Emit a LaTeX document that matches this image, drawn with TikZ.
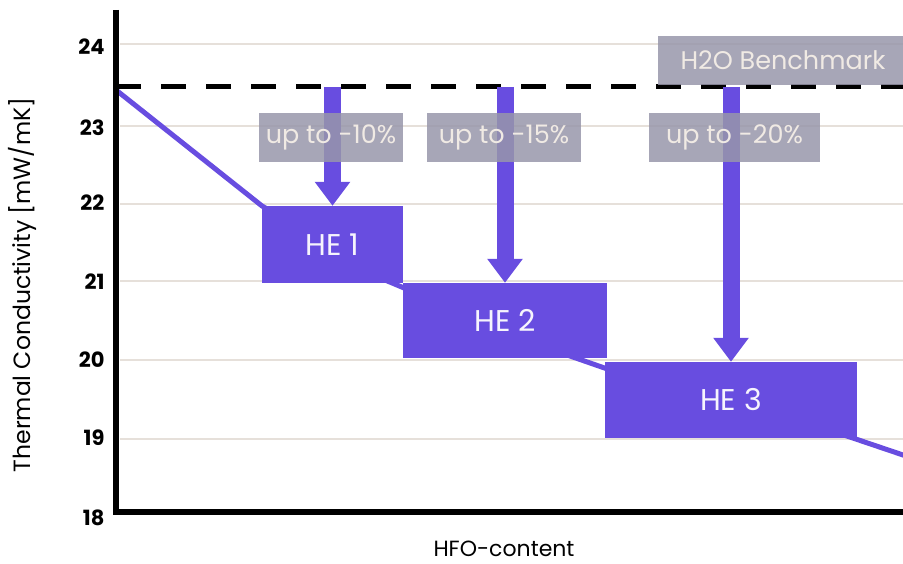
\documentclass[tikz,border=0pt]{standalone}
\usepackage{fontspec}
\setmainfont{Poppins}
\usetikzlibrary{arrows.meta,backgrounds}

\definecolor{hepurple}{RGB}{104,77,224}
\definecolor{gridbeige}{RGB}{230,224,218}
\definecolor{tagfill}{RGB}{152,150,170}
\definecolor{tagtext}{RGB}{240,234,228}

\tikzset{
  grid line/.style={gridbeige, line width=2.5pt},
  trend/.style={hepurple, line width=5pt},
  he box/.style={fill=hepurple, text=white!94!hepurple, inner sep=0pt, font=\fontsize{30}{34}\selectfont},
  tag box/.style={fill=tagfill, fill opacity=0.85, text opacity=1, text=tagtext, inner sep=0pt,
    minimum height=49pt, font=\fontsize{25.5}{29}\selectfont},
  drop arrow/.style={hepurple, line width=17pt, -{Triangle[width=34pt,length=24pt]}},
  tick label/.style={anchor=east, font=\bfseries\fontsize{21}{24}\selectfont}
}

\begin{document}
\begin{tikzpicture}[x=1pt,y=-1pt]
\useasboundingbox (0,0) rectangle (903,564);

% boxes of the three blends
\node[he box, minimum width=141pt, minimum height=77pt] (he1) at (332.5,244.5) {HE 1};
\node[he box, minimum width=204pt, minimum height=75pt] (he2) at (505,320.5) {HE 2};
\node[he box, minimum width=252pt, minimum height=76pt] (he3) at (731,400) {HE 3};

\coordinate (dashL) at (116,87);
\coordinate (dashR) at (903,87);
\coordinate (trendA) at (116,90);
\coordinate (trendZ) at (906,456);

\begin{pgfonlayer}{background}
\foreach \v/\y/\ly in {24/44/47,23/126/128,22/204/203,21/281/282,20/360/360,19/439/438} {
  \draw[grid line] (120,\y) -- (903,\y);
  \node[tick label] (t\v) at (108,\ly) {\v};
}
\draw[black, line width=5pt, dash pattern=on 25pt off 20pt] (dashL) -- (dashR);
\draw[trend] (trendA) -- (he1.north west) -- (385,280) -- (416,293) -- (570,356)
  -- (616,372) -- (835,432) -- (trendZ);
\end{pgfonlayer}

\node[tick label] (t18) at (108,518) {18};

% drops from the benchmark
\draw[drop arrow] (he1.north |- dashL) -- (he1.north);
\draw[drop arrow] (he2.north |- dashL) -- (he2.north);
\draw[drop arrow] (he3.north |- dashL) -- (he3.north);

\node[tag box, minimum width=144pt] (up1) at (331,137.5) {up to -10\%};
\node[tag box, minimum width=154pt] (up2) at (504,137.5) {up to -15\%};
\node[tag box, minimum width=171pt] (up3) at (734.5,137.5) {up to -20\%};
\node[tag box, minimum width=250pt] (bench) at (783,60.5) {H2O Benchmark};

% axes
\draw[line width=6pt] (115.5,10) -- (115.5,511.5) -- (903,511.5);

\node[rotate=90, font=\fontsize{23.5}{27}\selectfont] (ytitle) at (22,285) {Thermal Conductivity [mW/mK]};
\node[inner sep=0pt, font=\fontsize{22}{26}\selectfont] (xtitle) at (504,548.5) {HFO-content};
\end{tikzpicture}
\end{document}
